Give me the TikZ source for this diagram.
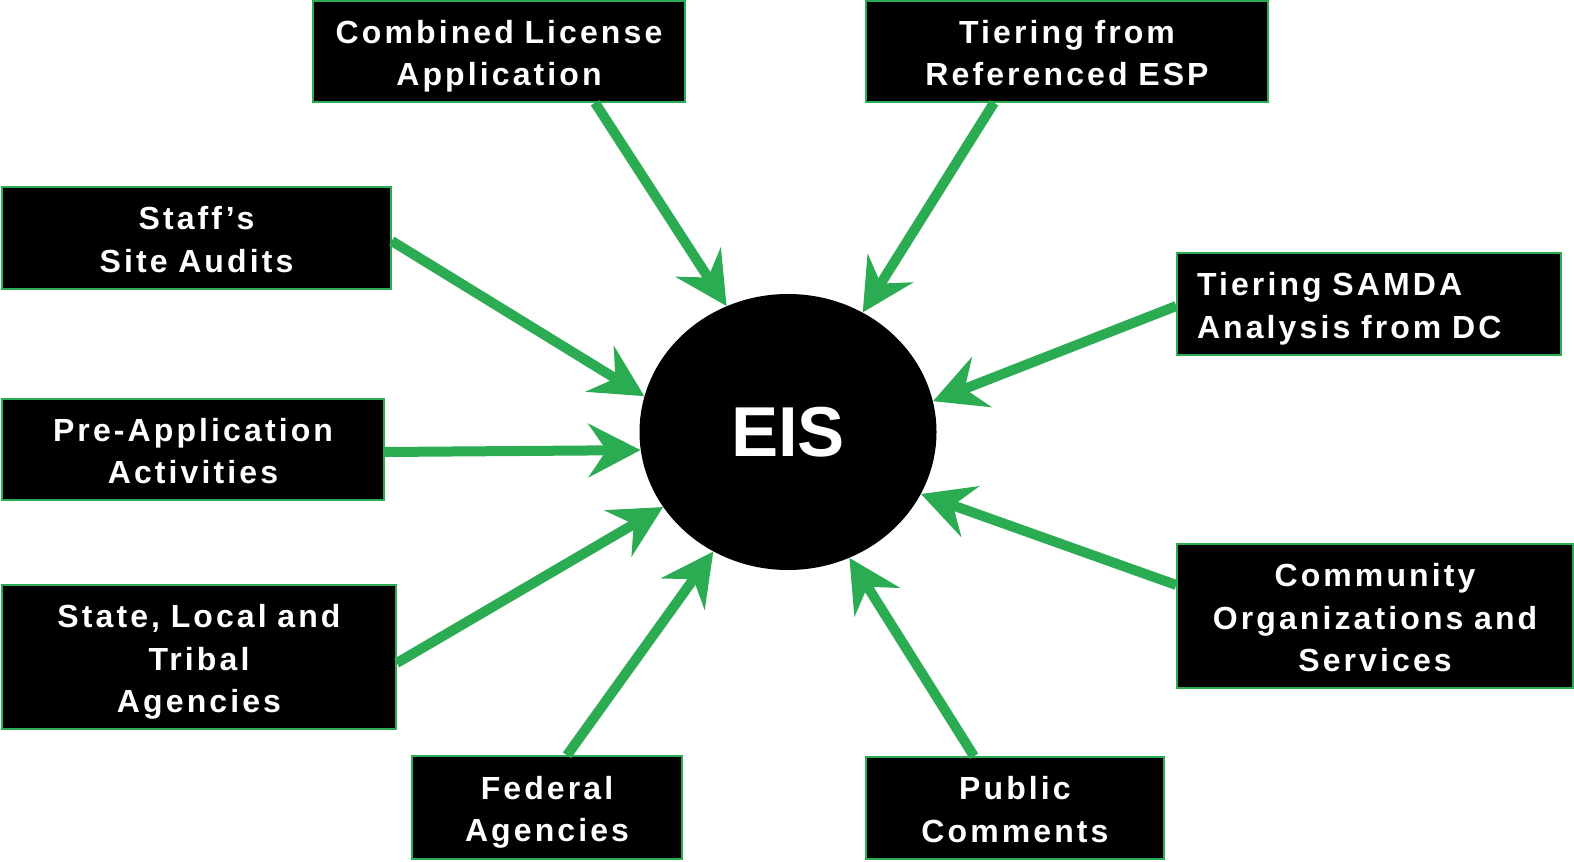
\documentclass[tikz,border=0pt]{standalone}
\usepackage{fontspec}
\usepackage{tikz}
\usetikzlibrary{calc,arrows.meta,shapes.geometric}
\newfontfamily\labelfont[LetterSpace=9.7]{Liberation Sans}
\newfontfamily\eisfont{Liberation Sans}
\definecolor{eisgreen}{RGB}{44,172,82}

\begin{document}
\begin{tikzpicture}[x=0.75pt,y=-0.75pt,
    box/.style 2 args={draw=eisgreen,line width=1.1pt,fill=black,text=white,inner sep=0pt,align=center,
        minimum width=#1,text width=#1,minimum height=#2,font={\labelfont\bfseries\fontsize{24pt}{32pt}\selectfont},
        execute at begin node={\rule{0pt}{25pt}},execute at end node={\rule[-5.5pt]{0pt}{5.5pt}}},
    feed/.style={draw=eisgreen,line width=7.5pt,-{Stealth[length=39pt,width=40pt,inset=13.5pt]}}]
    \useasboundingbox (0,0) rectangle (1574,862);
    \node[ellipse,fill=black,text=white,inner sep=0pt,minimum width=222.75pt,minimum height=207pt,
        font={\eisfont\bfseries\fontsize{53pt}{60pt}\selectfont}] (eis) at (788,432) {EIS};
    \node[box={279pt}{75.75pt}] (cla) at (499,51.5) {Combined License\\Application};
    \node[box={301.5pt}{75.75pt}] (esp) at (1067,51.5) {Tiering from\\Referenced ESP};
    \node[box={291.75pt}{76.5pt}] (staff) at (196.5,238) {Staff’s\\Site Audits};
    \node[box={288pt}{76.5pt},align=left,text width=258pt] (samda) at (1369,304) {Tiering SAMDA\\Analysis from DC};
    \node[box={286.5pt}{75.75pt}] (preapp) at (193,449.5) {Pre-Application\\Activities};
    \node[box={295.5pt}{108pt}] (state) at (199,657) {State, Local and\\Tribal\\Agencies};
    \node[box={297pt}{108pt}] (comm) at (1375,616) {Community\\Organizations and\\Services};
    \node[box={202.5pt}{77.25pt}] (fed) at (547,807.5) {Federal\\Agencies};
    \node[box={223.5pt}{76.5pt}] (pub) at (1015,808) {Public\\Comments};

    \draw[feed] ($(cla.south)+(96,0)$) -- (eis.116.7);
    \draw[feed] ($(esp.south)+(-73,0)$) -- (eis.58.6);
    \draw[feed] ($(staff.east)+(0,3)$) -- (eis.166.7);
    \draw[feed] ($(samda.west)+(0,2)$) -- (eis.12.5);
    \draw[feed] ($(preapp.east)+(0,2.5)$) -- (eis.187.7);
    \draw[feed] ($(state.east)+(0,6)$) -- (eis.211.1);
    \draw[feed] ($(comm.west)+(0,-31)$) -- (eis.335.9);
    \draw[feed] ($(fed.north)+(20,0)$) -- (eis.238.2);
    \draw[feed] ($(pub.north)+(-41,0)$) -- (eis.296.6);
\end{tikzpicture}
\end{document}
